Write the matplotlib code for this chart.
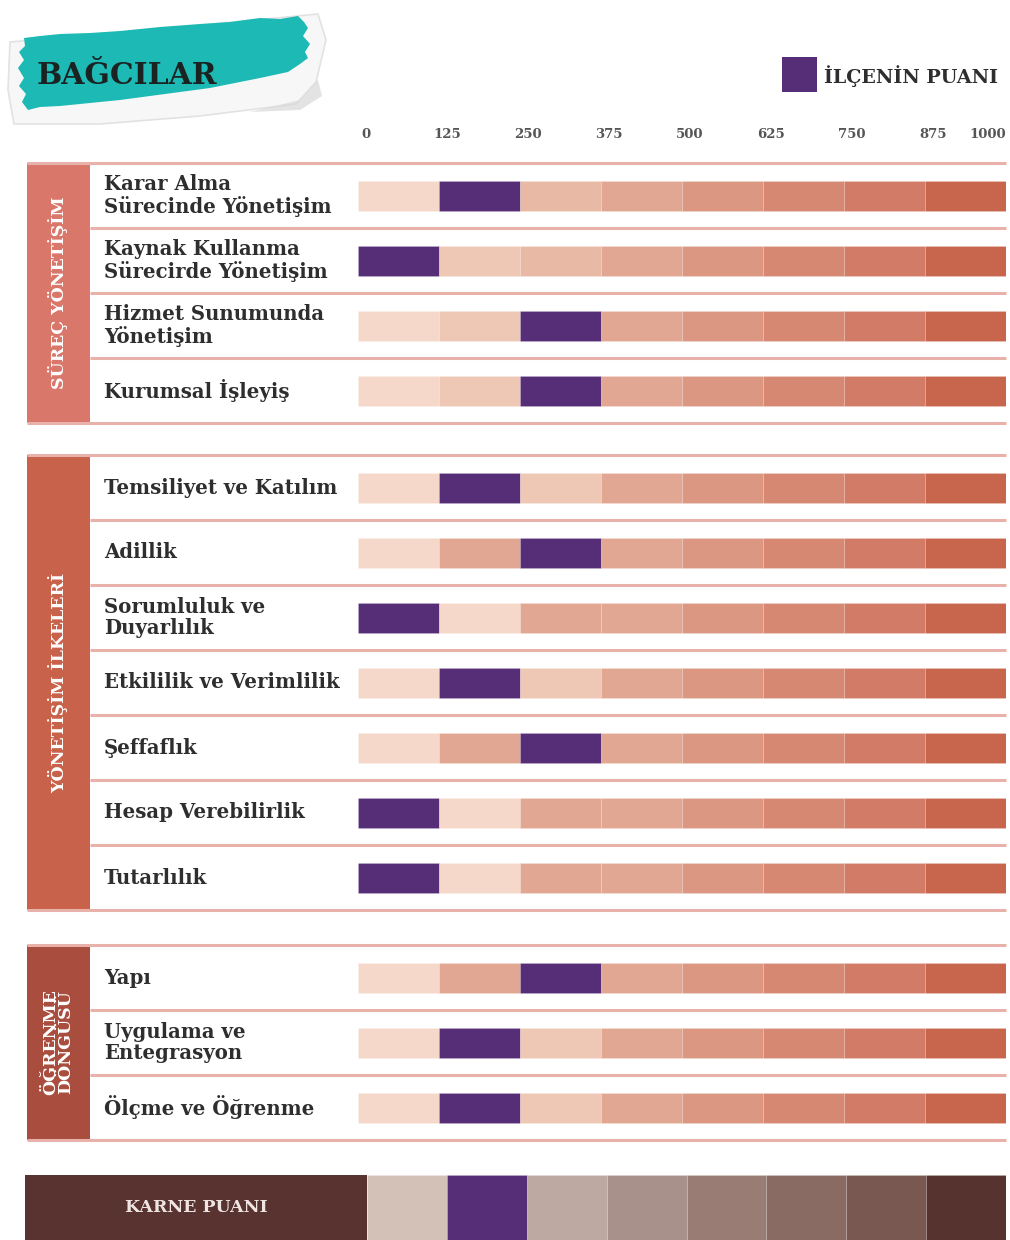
import matplotlib
matplotlib.use("Agg")
import matplotlib.pyplot as plt
from matplotlib.patches import Rectangle, Polygon

# ---------- DATA ------------
district = "BAĞCILAR"
legend_label = "İLÇENİN PUANI"
ticks = [0, 125, 250, 375, 500, 625, 750, 875, 1000]

groups = ["SÜREÇ YÖNETİŞİM", "YÖNETİŞİM İLKELERİ", "ÖĞRENME\nDÖNGÜSÜ"]
group_rows = [
    ["Karar Alma\nSürecinde Yönetişim", "Kaynak Kullanma\nSürecirde Yönetişim",
     "Hizmet Sunumunda\nYönetişim", "Kurumsal İşleyiş"],
    ["Temsiliyet ve Katılım", "Adillik", "Sorumluluk ve\nDuyarlılık",
     "Etkililik ve Verimlilik", "Şeffaflık", "Hesap Verebilirlik", "Tutarlılık"],
    ["Yapı", "Uygulama ve\nEntegrasyon", "Ölçme ve Öğrenme"],
]
# lower bound of the score band each indicator falls in
group_scores = [
    [125, 0, 250, 250],
    [125, 250, 0, 125, 250, 0, 0],
    [250, 125, 125],
]
karne_label = "KARNE PUANI"
karne_score = 125
# ------------------------------

# ---------- CONFIG ------------
purple = "#562D77"
shades = ["#F5D8C9", "#EEC7B5", "#E8B9A5", "#E2A793",
          "#DB9782", "#D68872", "#D27B66", "#C8654D"]
# shade index per band, per row
group_shades = [
    [[0, 1, 2, 3, 4, 5, 6, 7], [0, 1, 2, 3, 4, 5, 6, 7],
     [0, 1, 2, 3, 4, 5, 6, 7], [0, 1, 2, 3, 4, 5, 6, 7]],
    [[0, 1, 1, 3, 4, 5, 6, 7], [0, 3, 3, 3, 4, 5, 6, 7],
     [0, 0, 3, 3, 4, 5, 6, 7], [0, 1, 1, 3, 4, 5, 6, 7],
     [0, 3, 3, 3, 4, 5, 6, 7], [0, 0, 3, 3, 4, 5, 6, 7],
     [0, 0, 3, 3, 4, 5, 6, 7]],
    [[0, 3, 3, 3, 4, 5, 6, 7], [0, 1, 1, 3, 4, 5, 6, 7],
     [0, 1, 1, 3, 4, 5, 6, 7]],
]
karne_colors = ["#D3C1B8", "#BDA9A2", "#BDA9A2", "#A8918A",
                "#997D75", "#8A6B64", "#7A5852", "#56332F"]
group_colors = ["#D9776B", "#C8624A", "#A94D3E"]
line_color = "#E8B2AB"
text_color = "#2E2E2E"
serif = "DejaVu Serif"

W, H = 1010, 1240
group_tops = [163, 455, 945]
row_h = 65
bar_h = 30
bar_x0, bar_x1 = 358, 1006
karne_top = 1175
karne_x0 = 367
# ------------------------------

fig = plt.figure(figsize=(W / 100, H / 100), dpi=100)
bg = fig.add_axes([0, 0, 1, 1])
bg.set_xlim(0, W)
bg.set_ylim(H, 0)
bg.axis("off")

# score axes for the indicator bars (x in points, y in pixels)
ax = fig.add_axes([bar_x0 / W, 0, (bar_x1 - bar_x0) / W, 1])
ax.set_xlim(0, 1000)
ax.set_ylim(H, 0)
ax.axis("off")

# title brush on a curled paper label
shadow = Polygon([(10, 42), (150, 30), (318, 14), (326, 40), (316, 82), (296, 104),
                  (200, 116), (100, 124), (14, 124), (8, 90)],
                 closed=True, facecolor="#F7F7F7", edgecolor="#E2E2E2", lw=1.2)
bg.add_patch(shadow)
bg.add_patch(Polygon([(250, 112), (300, 100), (318, 80), (322, 96), (300, 110)],
                     closed=True, facecolor="#D8D8D8", edgecolor="none", alpha=0.7))
brush = Polygon([(24, 38), (40, 36), (60, 34), (90, 33), (120, 31), (160, 27),
                 (200, 24), (230, 22), (260, 18), (280, 19), (298, 16), (304, 22),
                 (308, 28), (303, 36), (310, 44), (305, 52), (308, 58), (300, 64),
                 (288, 72), (260, 78), (240, 82), (210, 88), (180, 92), (150, 96),
                 (120, 100), (90, 103), (60, 106), (40, 107), (28, 110), (22, 102),
                 (26, 94), (19, 86), (24, 78), (18, 68), (24, 60), (19, 52), (25, 46)],
                closed=True, facecolor="#1DBAB5", edgecolor="none")
bg.add_patch(brush)
bg.text(37, 76, district, fontsize=21.5, fontweight="bold", family=serif,
        color="#1A2222", va="center", ha="left")

# legend
bg.add_patch(Rectangle((782, 57), 35, 35, facecolor=purple, edgecolor="none"))
bg.text(824, 76, legend_label, fontsize=13.8, fontweight="bold", family=serif,
        color=text_color, va="center", ha="left")

# tick labels
for t in ticks:
    if t == 1000:
        ax.text(t, 134, str(t), fontsize=9.5, fontweight="bold", family=serif,
                color="#555555", ha="right", va="center")
    else:
        ax.text(t + 12, 134, str(t), fontsize=9.5, fontweight="bold", family=serif,
                color="#555555", ha="center", va="center")

# groups and rows
for g, rows in enumerate(group_rows):
    top = group_tops[g]
    bottom = top + row_h * len(rows)
    bg.add_patch(Rectangle((27, top), 63, bottom - top,
                           facecolor=group_colors[g], edgecolor="none"))
    bg.text(58, (top + bottom) / 2, groups[g], rotation=90, fontsize=12.5,
            fontweight="bold", family=serif, color="white", ha="center",
            va="center", linespacing=0.8)
    bg.plot([27, bar_x1], [top, top], color=line_color, lw=2.2,
            solid_capstyle="butt")
    for i, label in enumerate(rows):
        yc = top + row_h * i + row_h / 2
        y_line = top + row_h * (i + 1)
        x_start = 27 if i == len(rows) - 1 else 90
        bg.plot([x_start, bar_x1], [y_line, y_line], color=line_color, lw=2.2,
                solid_capstyle="butt")
        bg.text(104, yc, label, fontsize=14.2, fontweight="bold", family=serif,
                color=text_color, ha="left", va="center", linespacing=1.1)
        sh = group_shades[g][i]
        lefts = ticks[:-1]
        colors = [purple if lo == group_scores[g][i] else shades[s]
                  for lo, s in zip(lefts, sh)]
        ax.barh([yc] * len(lefts), [125] * len(lefts), left=lefts,
                height=bar_h, color=colors, edgecolor=(1, 1, 1, 0.2), lw=0.5)

# karne puani
bg.add_patch(Rectangle((25, karne_top), karne_x0 - 25, H - karne_top,
                       facecolor="#58332F", edgecolor="none"))
bg.text(196, karne_top + 33, karne_label, fontsize=12.5, fontweight="bold",
        family=serif, color="#EFE6E3", ha="center", va="center")
kax = fig.add_axes([karne_x0 / W, 0, (bar_x1 - karne_x0) / W, 1])
kax.set_xlim(0, 1000)
kax.set_ylim(H, 0)
kax.axis("off")
lefts = ticks[:-1]
kcolors = [purple if lo == karne_score else c for lo, c in zip(lefts, karne_colors)]
kax.barh([karne_top + (H - karne_top) / 2] * len(lefts), [125] * len(lefts),
         left=lefts, height=H - karne_top, color=kcolors,
         edgecolor=(1, 1, 1, 0.2), lw=0.5)

fig.savefig("out.png", dpi=100)
